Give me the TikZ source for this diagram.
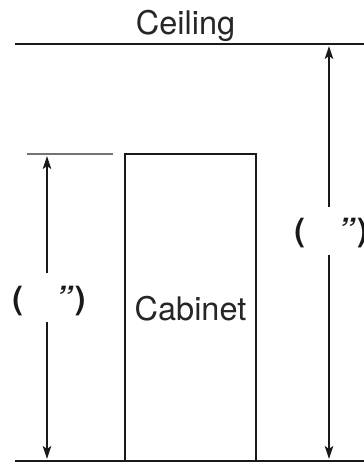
\documentclass[tikz,border=0pt]{standalone}
\usepackage{fontspec}
\setmainfont{TeX Gyre Heros}
\usetikzlibrary{arrows.meta}
\begin{document}
\begin{tikzpicture}[x=1pt,y=-1pt,
  thickline/.style={line width=2.8pt,black!90},
  dimarrow/.style={line width=1.3pt,black!90,-{Stealth[length=13pt,width=8.5pt,inset=3pt]}},
  lbl/.style={font=\fontsize{32.5}{32.5}\selectfont,text=black!85,inner sep=0pt},
  dimlbl/.style={font=\bfseries\fontsize{32}{32}\selectfont,inner sep=0pt,text=black!90}]
\useasboundingbox (0,0) rectangle (364,464);
% ceiling and floor
\coordinate (cl) at (15,44);
\coordinate (cr) at (364,44);
\coordinate (fl) at (15,461);
\coordinate (fr) at (364,461);
\draw[thickline] (cl) -- (cr);
\draw[thickline] (fl) -- (fr);
\node[lbl,anchor=base] (ceiling) at (185.5,34) {Ceiling};
% cabinet
\draw[thickline] (125,461) |- (256,154) -- (256,461);
\node[lbl,anchor=base] (cab) at (190.5,320.5) {Cabinet};
% gray reference line
\coordinate (gl) at (27,154);
\coordinate (gr) at (113,154);
\draw[line width=2.6pt,black!55] (gl) -- (gr);
% left dimension
\coordinate (ltop) at (47,156);
\coordinate (lbot) at (47,459);
\node[dimlbl,minimum height=49pt] (L) at (47,297.5) {};
\node[dimlbl,anchor=base] (Ltxt) at (49,309) {(\hspace{33pt}{\itshape ”}\hspace{3pt})};
\draw[dimarrow] (L.north) -- (ltop);
\draw[dimarrow] (L.south) -- (lbot);
% right dimension
\coordinate (rtop) at (329,46);
\coordinate (rbot) at (329,459);
\node[dimlbl,minimum height=48pt] (R) at (329,231) {};
\node[dimlbl,anchor=base] (Rtxt) at (331,241) {(\hspace{33pt}{\itshape ”}\hspace{3pt})};
\draw[dimarrow] (R.north) -- (rtop);
\draw[dimarrow] (R.south) -- (rbot);
\end{tikzpicture}
\end{document}
